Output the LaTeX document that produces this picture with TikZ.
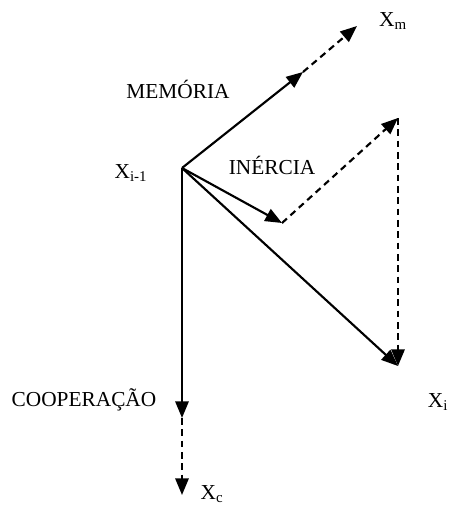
\documentclass[tikz,border=0pt]{standalone}
\usepackage{fontspec}
\setmainfont{Liberation Serif}
\usetikzlibrary{arrows.meta}

\begin{document}
\begin{tikzpicture}[x=0.75pt,y=-0.75pt,
  every node/.style={font=\fontsize{16}{19}\selectfont, inner sep=0pt},
  vec/.style={line width=1.6pt,-{Triangle[length=12.5pt,width=10pt]}},
  proj/.style={vec,dash pattern=on 5pt off 3.5pt}]
  \useasboundingbox (0,0) rectangle (450,509);
  % points
  \coordinate (xprev) at (182,168);
  \coordinate (mem) at (303,72);
  \coordinate (xm) at (357,26);
  \coordinate (ine) at (282,223);
  \coordinate (corner) at (398,118);
  \coordinate (xi) at (398,366);
  \coordinate (coop) at (182,418);
  \coordinate (xc) at (182,495);
  % vectors
  \draw[vec] (xprev) -- (mem);
  \draw[proj] (mem) -- (xm);
  \draw[vec] (xprev) -- (ine);
  \draw[proj] (ine) -- (corner);
  \draw[proj] (corner) -- (xi);
  \draw[vec] (xprev) -- (xi);
  \draw[vec] (xprev) -- (coop);
  \draw[proj] (coop) -- (xc);
  % labels
  \node (lmem) at (178,89) {MEMÓRIA};
  \node (line) at (272,165) {INÉRCIA};
  \node (lcoop) at (84,400) {COOPERAÇÃO};
  \node (lxprev) at (131,173) {X\textsubscript{i-1}};
  \node (lxm) at (393,21) {X\textsubscript{m}};
  \node (lxi) at (438,402) {X\textsubscript{i}};
  \node (lxc) at (212,494) {X\textsubscript{c}};
\end{tikzpicture}
\end{document}
